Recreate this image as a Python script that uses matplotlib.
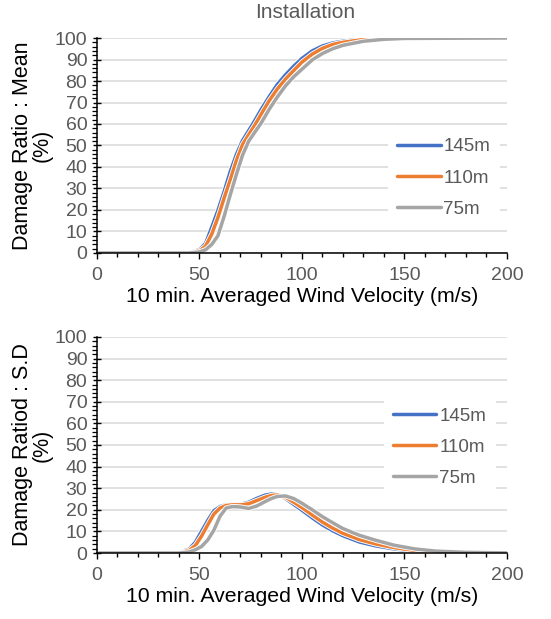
import matplotlib
matplotlib.use("Agg")
import matplotlib.pyplot as plt
import matplotlib.patheffects as pe
from matplotlib.ticker import MultipleLocator

plt.rcParams['font.family'] = ['Liberation Sans', 'DejaVu Sans']

# 平均値 (Mean) のデータ
x_mean = [1, 40, 45, 50, 53, 56, 59, 62, 65, 68, 71, 74, 77, 80, 84, 88, 92, 96, 100,
          105, 110, 115, 120, 130, 140, 150, 200]
mean_145 = [0, 0, 0.2, 1.5, 4.5, 12, 19.8, 28.5, 37.8, 45.8, 52.3, 56.9, 61.6, 66.6, 72.7,
            78.4, 82.9, 86.9, 90.5, 94, 96.3, 97.7, 98.5, 99.6, 99.9, 100, 100]
mean_110 = [0, 0, 0.1, 1, 3.2, 8.8, 16.5, 25.5, 34, 43, 50.4, 55, 59.5, 64.4, 70.8,
            76.3, 80.9, 84.9, 88.8, 92.5, 95.2, 97, 98, 99.3, 99.8, 100, 100]
mean_75 = [0, 0, 0, 0.5, 1.5, 4, 8, 17, 27, 36.5, 45.5, 52, 56.2, 60.3, 66.8, 72.6,
           77.8, 82, 85.5, 89.8, 92.8, 95, 96.6, 98.5, 99.4, 99.8, 100]

# 標準偏差 (S.D) のデータ
x_sd = [1, 40, 45, 48, 51, 54, 57, 60, 63, 66, 70, 74, 78, 82, 85, 88, 92, 96, 100,
        105, 110, 115, 120, 128, 136, 145, 155, 165, 180, 200]
sd_145 = [0, 0.2, 1.8, 5, 10, 15, 19.5, 21.5, 22.3, 22.4, 22.5, 23.5, 25.3, 26.8, 27.3,
          27, 25.2, 22.5, 19.8, 16.3, 13, 10.3, 8, 5.1, 3.3, 1.9, 0.9, 0.4, 0.1, 0]
sd_110 = [0, 0.1, 1.2, 3.5, 7.8, 13, 18, 20.8, 22, 22.3, 22.3, 22.8, 24.3, 25.8, 26.6,
          26.9, 25.8, 23.5, 21, 17.6, 14.3, 11.5, 9.1, 6.2, 4.2, 2.5, 1.2, 0.55, 0.15, 0]
sd_75 = [0, 0, 0.5, 1.5, 3, 6, 10.5, 17, 20.8, 21.5, 21.3, 20.6, 21.8, 23.8, 25.2,
         26.2, 26.4, 25.2, 23, 20, 16.8, 14, 11.3, 8.2, 5.9, 3.6, 1.9, 0.9, 0.3, 0.05]

labels = ['145m', '110m', '75m']
colors = ['#4472C4', '#ED7D31', '#A5A5A5']
text_gray = '#595959'

fig = plt.figure(figsize=(5.51, 6.19), dpi=100)
ax1 = fig.add_axes([0.176, 0.5913, 0.7441, 0.3473])
ax2 = fig.add_axes([0.176, 0.1066, 0.7441, 0.3490])


def setup(ax, ylabel, series, xs, legend_x, legend_y):
    for ys, lab, c in zip(series, labels, colors):
        ax.plot(xs, ys, color=c, lw=2.5, label=lab, solid_capstyle='round',
                path_effects=[pe.Stroke(linewidth=3.8, foreground='white'), pe.Normal()])
    ax.set_xlim(0, 200)
    ax.set_ylim(0, 100)
    ax.xaxis.set_major_locator(MultipleLocator(50))
    ax.xaxis.set_minor_locator(MultipleLocator(10))
    ax.yaxis.set_major_locator(MultipleLocator(10))
    ax.yaxis.set_minor_locator(MultipleLocator(2))
    ax.grid(axis='y', color='#D9D9D9', lw=1.1)
    ax.set_axisbelow(True)
    for s in ['top', 'right']:
        ax.spines[s].set_visible(False)
    for s in ['left', 'bottom']:
        ax.spines[s].set_color('black')
        ax.spines[s].set_linewidth(1.1)
    ax.tick_params(axis='x', which='major', direction='out', length=4, width=1.0,
                   labelsize=14, labelcolor=text_gray, pad=6)
    ax.tick_params(axis='x', which='minor', direction='out', length=3, width=1.0)
    ax.tick_params(axis='y', which='major', direction='inout', length=6, width=1.0,
                   labelsize=14, labelcolor=text_gray, pad=4)
    ax.tick_params(axis='y', which='minor', direction='out', length=3.5, width=0.9)
    ax.set_xlabel('10 min. Averaged Wind Velocity (m/s)', fontsize=15.3, labelpad=2)
    ax.set_ylabel(ylabel, fontsize=15.5, linespacing=0.95)
    ax.yaxis.set_label_coords(-0.107, 0.5)
    leg = ax.legend(loc='center left', bbox_to_anchor=(legend_x, legend_y), frameon=True,
                    handlelength=2.3, handletextpad=0.15, labelspacing=0.75,
                    fontsize=13.5, borderpad=0.5, borderaxespad=0)
    leg.get_frame().set_edgecolor('none')
    leg.get_frame().set_facecolor('white')
    leg.get_frame().set_alpha(1)
    leg.get_frame().set_boxstyle('square', pad=0)
    for t in leg.get_texts():
        t.set_color(text_gray)
    for h in leg.get_lines():
        h.set_linewidth(2.5)


setup(ax1, 'Damage Ratio : Mean\n(%)', [mean_145, mean_110, mean_75], x_mean, 0.71, 0.349)
setup(ax2, 'Damage Ratiod : S.D\n(%)', [sd_145, sd_110, sd_75], x_sd, 0.70, 0.49)

fig.text(0.553, 0.979, 'Installation', fontsize=15, color=text_gray, ha='center', va='center')

fig.savefig('out.png', dpi=100)
